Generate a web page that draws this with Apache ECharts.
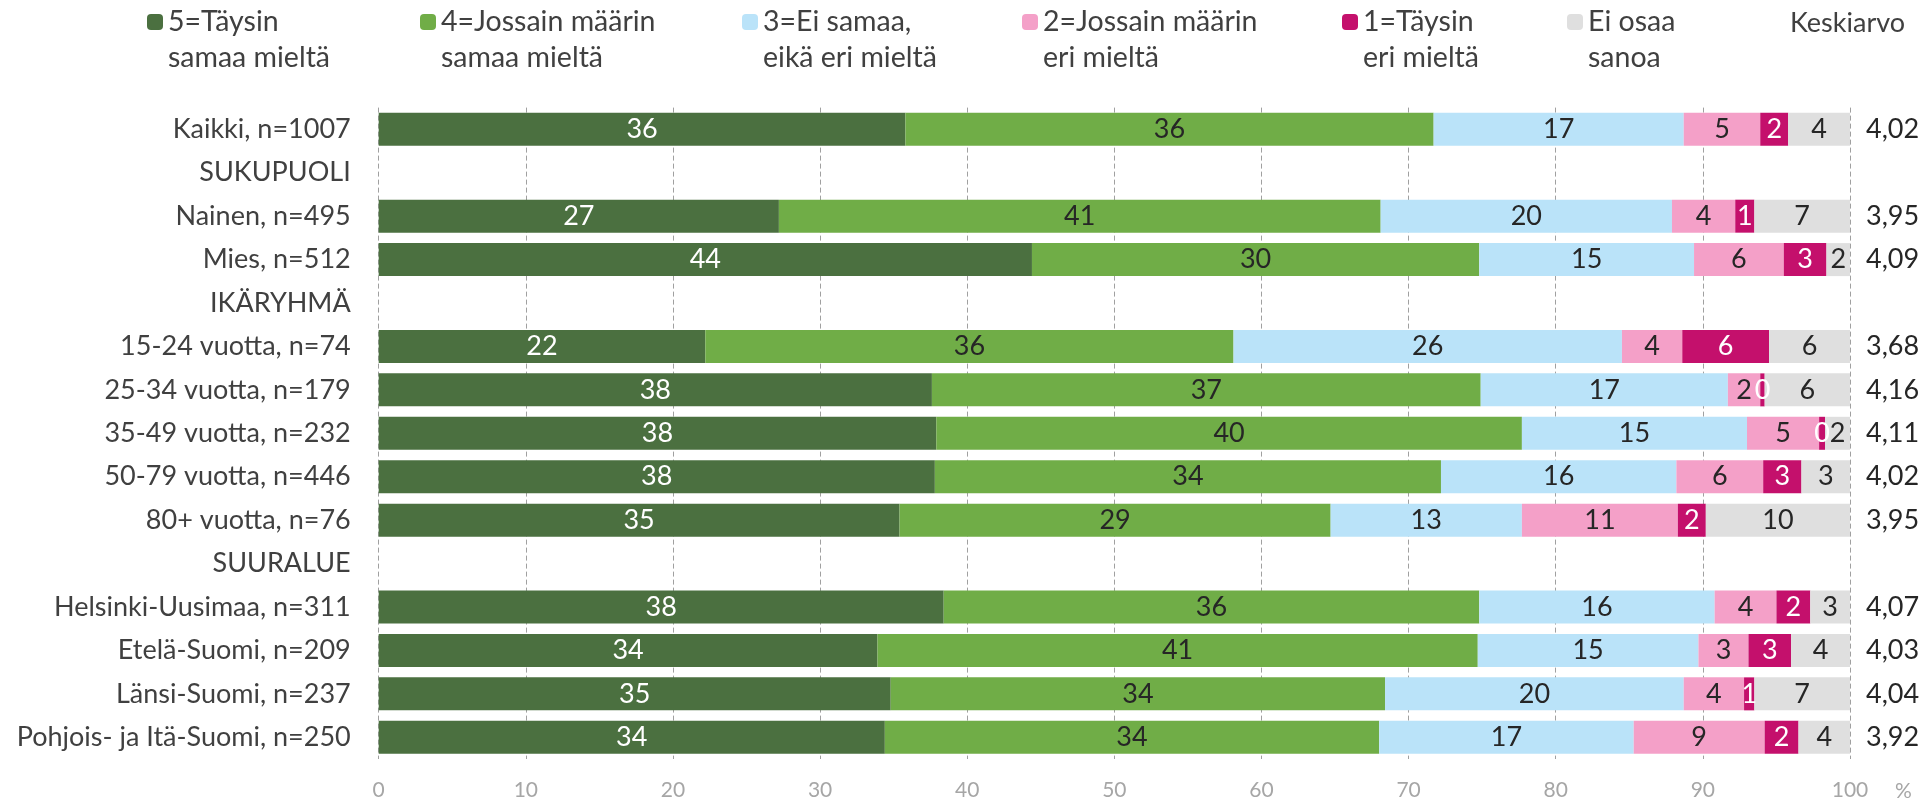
<!DOCTYPE html>
<html><head><meta charset="utf-8">
<script src="https://cdn.jsdelivr.net/npm/echarts@6/dist/echarts.min.js"></script>
<style>html,body{margin:0;padding:0;background:#fff}#chart{width:1931px;height:802px}</style>
</head><body><div id="chart"></div>
<script>
// ---- data ----
const categories = ['Kaikki, n=1007','SUKUPUOLI','Nainen, n=495','Mies, n=512','IKÄRYHMÄ','15-24 vuotta, n=74','25-34 vuotta, n=179','35-49 vuotta, n=232','50-79 vuotta, n=446','80+ vuotta, n=76','SUURALUE','Helsinki-Uusimaa, n=311','Etelä-Suomi, n=209','Länsi-Suomi, n=237','Pohjois- ja Itä-Suomi, n=250'];
const seriesNames = ['5=Täysin\nsamaa mieltä','4=Jossain määrin\nsamaa mieltä','3=Ei samaa,\neikä eri mieltä','2=Jossain määrin\neri mieltä','1=Täysin\neri mieltä','Ei osaa\nsanoa'];
const s5  = [35.8,null,27.2,44.4,null,22.2,37.6,37.9,37.8,35.4,null,38.4,33.9,34.8,34.4];
const s4  = [35.9,null,40.9,30.4,null,35.9,37.3,39.8,34.4,29.3,null,36.4,40.8,33.6,33.6];
const s3  = [17.0,null,19.8,14.6,null,26.4,16.8,15.3,16.0,13.0,null,16.0,15.0,20.3,17.3];
const s2  = [5.2,null,4.3,6.1,null,4.1,2.2,4.9,5.9,10.6,null,4.2,3.4,4.1,8.9];
const s1  = [1.9,null,1.3,2.9,null,5.9,0.3,0.4,2.6,1.9,null,2.3,2.9,0.7,2.3];
const sEO = [4.2,null,6.5,1.6,null,5.5,5.8,1.7,3.3,9.8,null,2.7,4.0,6.5,3.5];
const means = ['4,02','','3,95','4,09','','3,68','4,16','4,11','4,02','3,95','','4,07','4,03','4,04','3,92'];
const meanTitle = 'Keskiarvo';
const axisUnit = '%';

// ---- styles ----
const FONT = 'Lato';
const colors = ['#4B7040','#70AD47','#BAE3F9','#F4A0C8','#C4106C','#DFDFDF'];
const labelColors = ['#ffffff','#262626','#262626','#262626','#ffffff','#262626'];
const legendX = [147, 420, 742, 1022, 1342, 1567];
const allData = [s5, s4, s3, s2, s1, sEO];

const chart = echarts.init(document.getElementById('chart'), null, {renderer:'canvas'});
const series = allData.map((d, i) => ({
  name: seriesNames[i], type: 'bar', stack: 'total', data: d,
  barWidth: 33, xAxisIndex: 0, yAxisIndex: 0,
  itemStyle: {color: colors[i]},
  label: {show: true, position: 'inside', color: labelColors[i], fontFamily: FONT, fontSize: 27,
    formatter: p => (p.value == null ? '' : String(Math.round(p.value)))},
  emphasis: {disabled: true}
}));
const legends = seriesNames.map((n, i) => ({
  data: [n], left: legendX[i], top: -32, padding: 0, itemWidth: 16, itemHeight: 16, itemGap: 0,
  selectedMode: false,
  formatter: name => '\n' + name,
  textStyle: {fontFamily: FONT, fontSize: 28.5, color: '#404040', lineHeight: 36}
}));
chart.setOption({
  animation: false,
  textStyle: {fontFamily: FONT},
  color: colors,
  title: {text: meanTitle, left: 1790, top: 8, padding: 0,
    textStyle: {fontFamily: FONT, fontSize: 27, fontWeight: 'normal', color: '#404040', lineHeight: 30}},
  legend: legends,
  grid: {left: 378.7, right: 81, top: 107.6, bottom: 42.6, containLabel: false},
  xAxis: {type: 'value', min: 0, max: 100, interval: 10,
    name: axisUnit, nameLocation: 'end', nameGap: 45,
    nameTextStyle: {fontFamily: FONT, fontSize: 21, color: '#a6a6a6', verticalAlign: 'top', padding: [22,0,0,0]},
    axisLine: {show: false}, axisTick: {show: false},
    axisLabel: {fontFamily: FONT, fontSize: 21, color: '#a6a6a6', margin: 21},
    splitLine: {show: true, lineStyle: {color: '#a0a0a0', width: 1, type: [5,3]}}},
  yAxis: [
    {type: 'category', data: categories, inverse: true,
      axisLine: {show: false}, axisTick: {show: false},
      axisLabel: {fontFamily: FONT, fontSize: 27, color: '#404040', margin: 28}},
    {type: 'category', data: means, inverse: true, position: 'right',
      axisLine: {show: false}, axisTick: {show: false},
      axisLabel: {fontFamily: FONT, fontSize: 27, color: '#262626', margin: 16, align: 'left'}}
  ],
  series: series
});
</script></body></html>
